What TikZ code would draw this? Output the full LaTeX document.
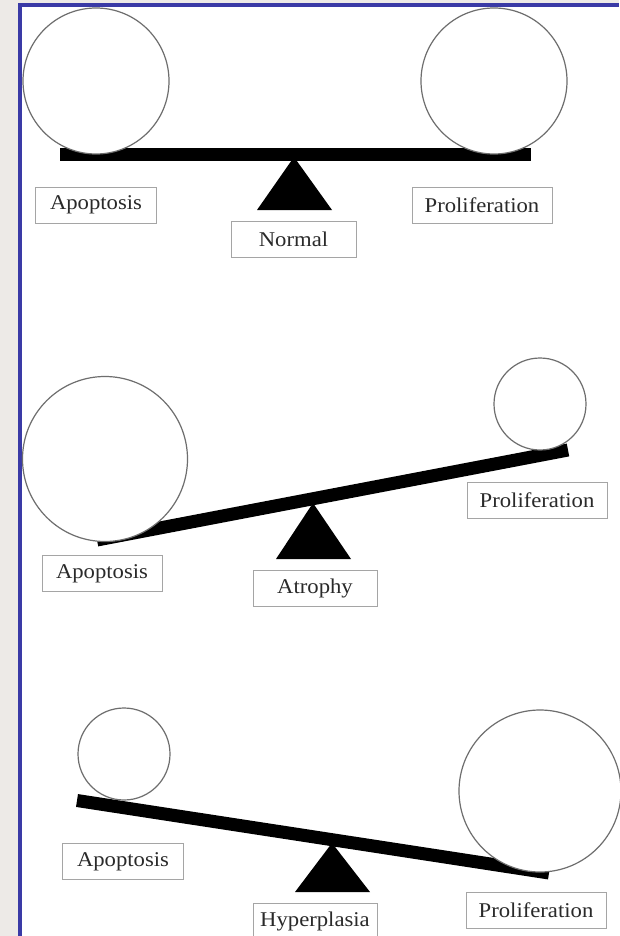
\documentclass[tikz,border=0pt]{standalone}
\usepackage{fontspec}
\setmainfont{Liberation Serif}

\definecolor{framegray}{HTML}{EDEAE7}
\definecolor{frameblue}{HTML}{3A3AA6}
\definecolor{ringgray}{HTML}{6E6E6E}
\definecolor{boxgray}{HTML}{A5A5A5}
\definecolor{inkgray}{HTML}{2A2A2A}
\newcommand{\stretched}[1]{\scalebox{1.08}[1]{#1}}

\begin{document}
\begin{tikzpicture}[x = 1pt, y = -1pt, every node/.style = {inner sep = 0pt},
	weight/.style = {circle, draw = ringgray, line width = 1.2pt, fill = white},
	beam/.style = {line width = 13pt, black},
	tag/.style = {draw = boxgray, line width = 0.8pt, fill = white,
	minimum height = 36pt, text = inkgray, font = \fontsize{21}{24}\selectfont}]

	\useasboundingbox (0, 0) rectangle (619, 936);
	\fill[framegray] (0, 0) rectangle (619, 936);
	\fill[white] (20, 6) rectangle (619, 936);
	\draw[frameblue, line width = 4pt] (20, 936) -- (20, 5.5) -- (619, 5.5);

		\coordinate (N1) at ( 60, 154.5);
		\coordinate (N2) at (531, 154.5);
		\coordinate (A1) at ( 97, 540);
		\coordinate (A2) at (568, 450);
		\coordinate (H1) at ( 77, 800.5);
		\coordinate (H2) at (549, 873);

	    \foreach \from/\to in {N1/N2, A1/A2, H1/H2}
	    	\draw[beam] (\from) -- (\to);

	    \foreach \x/\y/\h in {294/157/53, 313/503/56, 332/843/49}
	    	\fill (\x, \y) -- ++(-37, \h) -- ++(75, 0) -- cycle;

	    \foreach \name/\x/\y/\d in {NA/96/81/146, NP/494/81/146, AA/105/459/165,
	    	AP/540/404/92, HA/124/754/92, HP/540/791/162}
	    	\node[weight, minimum size = \d] (\name) at (\x, \y) {};

	    \foreach \name/\x/\y/\w/\txt in {NAL/96/205/121/Apoptosis, NL/293.5/239.5/125/Normal,
	    	NPL/482/205.5/140/Proliferation, AAL/102/573.5/120/Apoptosis,
	    	AL/315/588/124/Atrophy, APL/537/500/140/Proliferation,
	    	HAL/123/861.5/121/Apoptosis, HL/315/921/124/Hyperplasia,
	    	HPL/536/910.5/140/Proliferation}
	    	\node[tag, minimum width = \w] (\name) at (\x, \y) {\stretched{\txt}};

	\end{tikzpicture}
\end{document}
